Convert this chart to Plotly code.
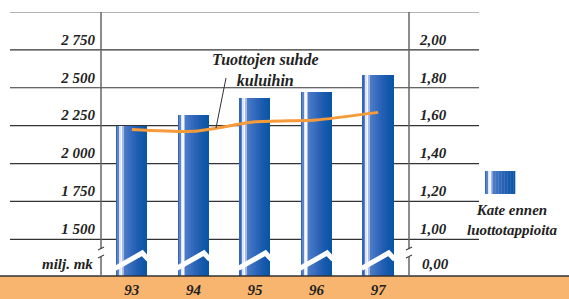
import plotly.graph_objects as go

# ---------------- data ----------------
years = ["93", "94", "95", "96", "97"]
kate = [2248, 2323, 2435, 2474, 2582]          # milj. mk (left axis)
suhde = [1.58, 1.57, 1.62, 1.63, 1.67]          # ratio (right axis)
left_ticks = [1500, 1750, 2000, 2250, 2500, 2750]
left_ticktext = ["1 500", "1 750", "2 000", "2 250", "2 500", "2 750"]
right_ticks = [1.0, 1.2, 1.4, 1.6, 1.8, 2.0]
right_ticktext = ["1,00", "1,20", "1,40", "1,60", "1,80", "2,00"]
left_range = [1258, 3000]
right_range = [0.806, 2.2]
gridvals = [1500, 1750, 2000, 2250, 2500, 2750, 3000]

# ---------------- style ----------------
W, H = 569, 299
ML, MR, MT, MB = 101, 160, 12, 23
PW = W - ML - MR
PH = H - MT - MB
FONT = "Liberation Serif"
TXT = "#222222"
GRAD = ["#3466b8", "#5a84cc", "#dfe4f8", "#f8f8ff", "#a9b9e6", "#4a7bc6",
        "#4577c4", "#4073c2", "#3b70c0", "#366cbd", "#3168bb", "#2c65b8",
        "#2762b5", "#225fb3", "#1d5db0", "#185bae", "#1459ac", "#1058aa",
        "#0c57a8", "#0a56a6"]
BAR_W = 0.5
xs = list(range(len(years)))

fig = go.Figure()

n = len(GRAD)
sw = BAR_W / n
for i, c in enumerate(GRAD):
    fig.add_trace(go.Bar(x=xs, y=kate, width=[sw] * len(xs),
                         offset=[-BAR_W / 2 + i * sw] * len(xs),
                         marker=dict(color=c, line=dict(width=0)),
                         showlegend=False, hoverinfo="skip"))

# white break zig-zag on bars
for x in xs:
    fig.add_trace(go.Scatter(x=[x - 0.27, x + 0.17, x + 0.27],
                             y=[1308, 1410, 1366], mode="lines",
                             line=dict(color="white", width=5),
                             showlegend=False, hoverinfo="skip"))

fig.add_trace(go.Scatter(x=xs, y=suhde, yaxis="y2", mode="lines",
                         line=dict(color="#F59B3A", width=3, shape="spline",
                                   smoothing=0.5),
                         showlegend=False, hoverinfo="skip"))

shapes = []
# orange floor band
shapes.append(dict(type="rect", xref="paper", yref="paper",
                   x0=-ML / PW, x1=(W - ML) / PW, y0=-MB / PH - 0.01, y1=0,
                   fillcolor="#F8B56F", line=dict(width=0), layer="below"))
shapes.append(dict(type="line", xref="paper", yref="paper",
                   x0=-ML / PW, x1=(W - ML) / PW, y0=0, y1=0,
                   line=dict(color="#333333", width=1.5)))
# gridlines
gx0 = (10 - ML) / PW
gx1 = (479 - ML) / PW
for g in gridvals:
    shapes.append(dict(type="line", xref="paper", yref="y", x0=gx0, x1=gx1,
                       y0=g, y1=g, layer="below",
                       line=dict(color="#6a6a6a" if g == 3000 else "#333333",
                                 width=1.2)))
# axis verticals with break
by1 = (276 - 249) / PH
by2 = (276 - 257) / PH
for ax in (0, 1):
    shapes.append(dict(type="line", xref="paper", yref="paper", x0=ax, x1=ax,
                       y0=by1, y1=1, line=dict(color="#666666", width=1.5)))
    shapes.append(dict(type="line", xref="paper", yref="paper", x0=ax, x1=ax,
                       y0=0, y1=by2, line=dict(color="#666666", width=1.5)))
    for by in (by1, by2):
        shapes.append(dict(type="line", xref="paper", yref="paper",
                           xsizemode="pixel", ysizemode="pixel",
                           xanchor=ax, yanchor=by,
                           x0=-3, x1=3, y0=-1, y1=2,
                           line=dict(color="#444444", width=1.2)))
# pointer
shapes.append(dict(type="line", xref="paper", yref="paper",
                   x0=(226 - ML) / PW, y0=(276 - 78) / PH,
                   x1=(216 - ML) / PW, y1=(276 - 128) / PH,
                   line=dict(color="#333333", width=1)))
# legend swatch
lx0, lx1 = 485, 515
for i, c in enumerate(GRAD):
    shapes.append(dict(type="rect", xref="paper", yref="paper",
                       x0=(lx0 - ML + i * (lx1 - lx0) / n) / PW,
                       x1=(lx0 - ML + (i + 1) * (lx1 - lx0) / n) / PW + 0.001,
                       y0=(276 - 194) / PH, y1=(276 - 171) / PH,
                       fillcolor=c, line=dict(width=0)))

annotations = [
    dict(text="Tuottojen suhde<br>kuluihin", xref="paper", yref="paper",
         x=(265 - ML) / PW, y=(276 - 70) / PH, showarrow=False,
         xanchor="center", yanchor="middle",
         font=dict(family=FONT, size=16, color=TXT, style="italic",
                   weight="bold"), align="center"),
    dict(text="Kate ennen<br>luottotappioita", xref="paper", yref="paper",
         x=(512 - ML) / PW, y=(276 - 220) / PH, showarrow=False,
         xanchor="center", yanchor="middle",
         font=dict(family=FONT, size=15, color=TXT, style="italic",
                   weight="bold"), align="center"),
    dict(text="milj. mk", xref="paper", yref="paper", x=0, xanchor="right",
         xshift=-6, y=0, yanchor="bottom", yshift=2, showarrow=False,
         font=dict(family=FONT, size=15, color=TXT, style="italic",
                   weight="bold")),
    dict(text="0,00", xref="paper", yref="paper", x=1, xanchor="left",
         xshift=11, y=0, yanchor="bottom", yshift=2, showarrow=False,
         font=dict(family=FONT, size=15, color=TXT, style="italic",
                   weight="bold")),
]

tickfont = dict(family=FONT, size=15, color=TXT, style="italic", weight="bold")
fig.update_layout(
    template="none",
    width=W, height=H,
    margin=dict(l=ML, r=MR, t=MT, b=MB, pad=0, autoexpand=False),
    plot_bgcolor="white", paper_bgcolor="white",
    barmode="overlay", bargap=0,
    xaxis=dict(range=[-0.5, len(years) - 0.5], tickvals=xs, ticktext=years,
               showgrid=False, zeroline=False, showline=False, ticks="",
               automargin=False,
               tickfont=tickfont, ticklabelstandoff=3, fixedrange=True),
    yaxis=dict(range=left_range, tickvals=left_ticks, ticktext=left_ticktext,
               showgrid=False, zeroline=False, showline=False, ticks="",
               automargin=False,
               ticklabelposition="outside top", tickfont=tickfont,
               ticklabelstandoff=5),
    yaxis2=dict(range=right_range, tickvals=right_ticks,
                ticktext=right_ticktext, overlaying="y", side="right",
                showgrid=False, zeroline=False, showline=False, ticks="",
                automargin=False,
                ticklabelposition="outside top", tickfont=tickfont,
                ticklabelstandoff=10),
    shapes=shapes, annotations=annotations, showlegend=False,
)

fig.write_html("out.html", config={"displayModeBar": False},
               post_script="document.body.style.margin='0';"
                           "document.body.style.overflow='hidden';")
